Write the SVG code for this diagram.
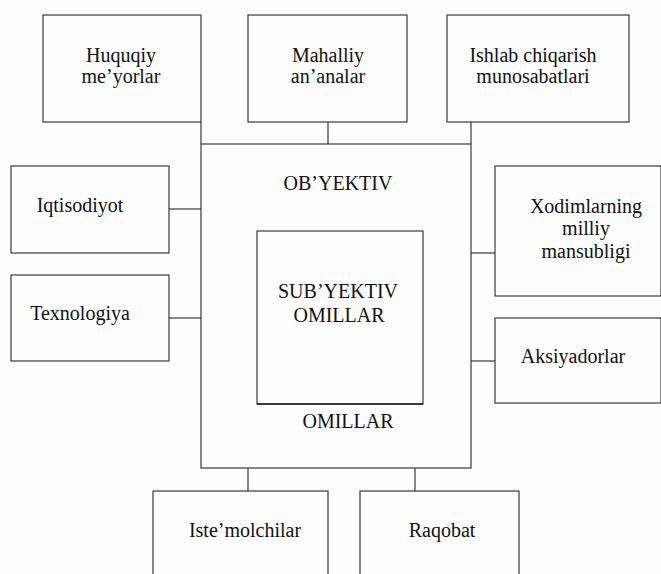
<svg xmlns="http://www.w3.org/2000/svg" width="661" height="574" viewBox="0 0 661 574">
<style>
rect.b{fill:none;stroke:#3a3a3a;stroke-width:1.2}
line{stroke:#3a3a3a;stroke-width:1.2}
.t{font-family:'Liberation Serif','DejaVu Serif',serif;font-size:20px;fill:#111;text-anchor:middle}
</style>
<rect x="0" y="0" width="661" height="574" fill="#fdfdfd"/>
<g id="connectors">
<line x1="201" y1="122" x2="201" y2="144"/>
<line x1="328" y1="122" x2="328" y2="144"/>
<line x1="471" y1="122" x2="471" y2="144"/>
<line x1="169" y1="209" x2="201" y2="209"/>
<line x1="169" y1="318" x2="201" y2="318"/>
<line x1="471" y1="253" x2="495" y2="253"/>
<line x1="471" y1="361" x2="495" y2="361"/>
<line x1="248" y1="468" x2="248" y2="491"/>
<line x1="415" y1="468" x2="415" y2="491"/>
</g>
<g id="main" class="t" font-family="Liberation Serif, serif">
<rect class="b" x="201" y="144" width="270" height="324"/>
<text x="338" y="190">OB’YEKTIV</text>
<text x="348" y="428">OMILLAR</text>
</g>
<g id="inner" class="t" font-family="Liberation Serif, serif">
<rect class="b" x="257" y="231" width="166" height="173"/>
<line x1="257" y1="404" x2="423" y2="404" style="stroke-width:2.2"/>
<text x="338" y="298">SUB’YEKTIV</text>
<text x="339" y="322">OMILLAR</text>
</g>
<g id="huquqiy" class="t" font-family="Liberation Serif, serif">
<rect class="b" x="43" y="15" width="158" height="107"/>
<text x="121" y="62">Huquqiy</text>
<text x="121" y="83">me’yorlar</text>
</g>
<g id="mahalliy" class="t" font-family="Liberation Serif, serif">
<rect class="b" x="248" y="15" width="159" height="107"/>
<text x="328" y="62">Mahalliy</text>
<text x="328" y="83">an’analar</text>
</g>
<g id="ishlab" class="t" font-family="Liberation Serif, serif">
<rect class="b" x="447" y="15" width="182" height="107"/>
<text x="533" y="62">Ishlab chiqarish</text>
<text x="533" y="83">munosabatlari</text>
</g>
<g id="iqtisodiyot" class="t" font-family="Liberation Serif, serif">
<rect class="b" x="11" y="166" width="158" height="87"/>
<text x="80" y="212">Iqtisodiyot</text>
</g>
<g id="texnologiya" class="t" font-family="Liberation Serif, serif">
<rect class="b" x="11" y="275" width="158" height="86"/>
<text x="80" y="320">Texnologiya</text>
</g>
<g id="xodimlarning" class="t" font-family="Liberation Serif, serif">
<rect class="b" x="495" y="166" width="166" height="130"/>
<text x="586" y="213">Xodimlarning</text>
<text x="586" y="235">milliy</text>
<text x="586" y="258">mansubligi</text>
</g>
<g id="aksiyadorlar" class="t" font-family="Liberation Serif, serif">
<rect class="b" x="495" y="318" width="166" height="85"/>
<text x="573" y="363">Aksiyadorlar</text>
</g>
<g id="istemolchilar" class="t" font-family="Liberation Serif, serif">
<rect class="b" x="153" y="491" width="175" height="90"/>
<text x="245" y="537">Iste’molchilar</text>
</g>
<g id="raqobat" class="t" font-family="Liberation Serif, serif">
<rect class="b" x="360" y="491" width="159" height="90"/>
<text x="442" y="537">Raqobat</text>
</g>
</svg>
